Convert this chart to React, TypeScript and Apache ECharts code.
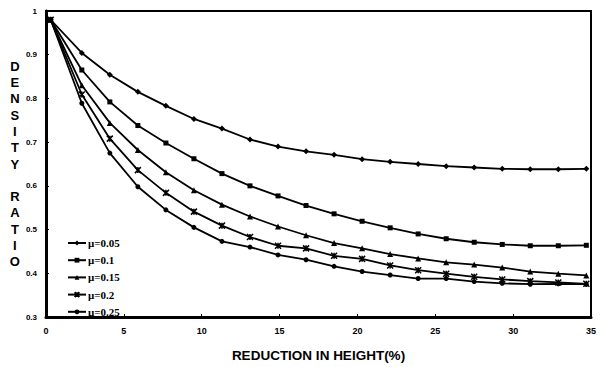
import React, { useEffect, useRef } from "react";
import * as echarts from "echarts";

const xValues = [0.3, 2.3, 4.1, 5.9, 7.7, 9.5, 11.3, 13.1, 14.9, 16.7, 18.5, 20.3, 22.1, 23.9, 25.7, 27.5, 29.3, 31.1, 32.9, 34.7];

const seriesNames = ["μ=0.05", "μ=0.1", "μ=0.15", "μ=0.2", "μ=0.25"];

const mu005 = [0.98, 0.904, 0.854, 0.815, 0.783, 0.753, 0.731, 0.706, 0.690, 0.679, 0.671, 0.661, 0.655, 0.650, 0.645, 0.642, 0.639, 0.638, 0.638, 0.639];
const mu010 = [0.98, 0.865, 0.792, 0.738, 0.698, 0.662, 0.628, 0.600, 0.577, 0.555, 0.536, 0.519, 0.504, 0.490, 0.479, 0.471, 0.466, 0.463, 0.463, 0.464];
const mu015 = [0.98, 0.830, 0.744, 0.682, 0.631, 0.590, 0.557, 0.530, 0.507, 0.487, 0.469, 0.457, 0.444, 0.434, 0.425, 0.420, 0.413, 0.404, 0.399, 0.395];
const mu020 = [0.98, 0.809, 0.708, 0.636, 0.584, 0.541, 0.509, 0.483, 0.463, 0.457, 0.440, 0.433, 0.418, 0.407, 0.399, 0.392, 0.386, 0.382, 0.379, 0.376];
const mu025 = [0.98, 0.789, 0.675, 0.598, 0.545, 0.505, 0.473, 0.460, 0.442, 0.431, 0.416, 0.404, 0.396, 0.388, 0.388, 0.381, 0.377, 0.375, 0.376, 0.375];

const xTicks = [0, 5, 10, 15, 20, 25, 30, 35];
const yTicks = [0.3, 0.4, 0.5, 0.6, 0.7, 0.8, 0.9, 1];

const allValues = [mu005, mu010, mu015, mu020, mu025];
const symbols = [
  "diamond",
  "rect",
  "triangle",
  "path://M0,0L10,10M10,0L0,10M5,0L5,10",
  "circle",
];
const symbolSizes = [6, 5, 6, 6, 5];

export default function App() {
  const ref = useRef<HTMLDivElement>(null);
  useEffect(() => {
    if (!ref.current) return;
    const chart = echarts.init(ref.current, null, { renderer: "svg" });
    const series = allValues.map((vals, i) => ({
      name: seriesNames[i],
      type: "line",
      data: vals.map((v, j) => [xValues[j], v]),
      symbol: symbols[i],
      symbolSize: symbolSizes[i],
      showSymbol: true,
      lineStyle: { color: "#000", width: 1.8 },
      itemStyle: { color: "#000", borderColor: "#000", borderWidth: i === 3 ? 1.5 : 0 },
      z: 3,
    }));
    chart.setOption({
      animation: false,
      backgroundColor: "#fff",
      textStyle: { fontFamily: "Liberation Sans" },
      grid: {
        left: 46,
        right: 14,
        top: 11,
        bottom: 43,
        show: true,
        borderColor: "#000",
        borderWidth: 2,
        containLabel: false,
      },
      legend: {
        orient: "vertical",
        left: 62,
        top: 232,
        itemWidth: 18,
        itemHeight: 6,
        itemGap: 5.2,
        data: seriesNames,
        textStyle: {
          fontFamily: "Liberation Serif",
          fontWeight: "bold",
          fontSize: 11,
          lineHeight: 12,
          color: "#000",
          padding: [0, 0, 0, -3],
        },
      },
      xAxis: {
        type: "value",
        min: xTicks[0],
        max: xTicks[xTicks.length - 1],
        interval: 5,
        name: "REDUCTION IN HEIGHT(%)",
        nameLocation: "middle",
        nameGap: 31,
        nameTextStyle: { fontFamily: "Liberation Sans", fontWeight: "bold", fontSize: 13.5, color: "#000" },
        axisLine: { show: true, onZero: false, lineStyle: { color: "#000", width: 3 } },
        axisTick: { show: true, inside: true, length: 3, lineStyle: { color: "#000" } },
        axisLabel: { color: "#000", fontSize: 9, fontWeight: "bold", margin: 9 },
        splitLine: { show: false },
      },
      yAxis: {
        type: "value",
        min: yTicks[0],
        max: yTicks[yTicks.length - 1],
        interval: 0.1,
        name: "D\nE\nN\nS\nI\nT\nY\n\nR\nA\nT\nI\nO",
        nameLocation: "middle",
        nameRotate: 0,
        nameGap: 27,
        nameTextStyle: {
          fontFamily: "Liberation Sans",
          fontWeight: "bold",
          fontSize: 13,
          lineHeight: 16.3,
          color: "#000",
          align: "center",
        },
        axisLine: { show: true, onZero: false, lineStyle: { color: "#000", width: 3 } },
        axisTick: { show: true, inside: true, length: 3, lineStyle: { color: "#000" } },
        axisLabel: {
          color: "#000",
          fontSize: 8,
          fontWeight: "bold",
          margin: 9,
          formatter: (v: number) => (Math.abs(v - 1) < 1e-9 ? "1" : v.toFixed(1)),
        },
        splitLine: { show: false },
      },
      series,
    });
    return () => chart.dispose();
  }, []);
  return (
    <div
      ref={ref}
      style={{ position: "absolute", left: 0, top: 0, width: 605, height: 367 }}
    />
  );
}
